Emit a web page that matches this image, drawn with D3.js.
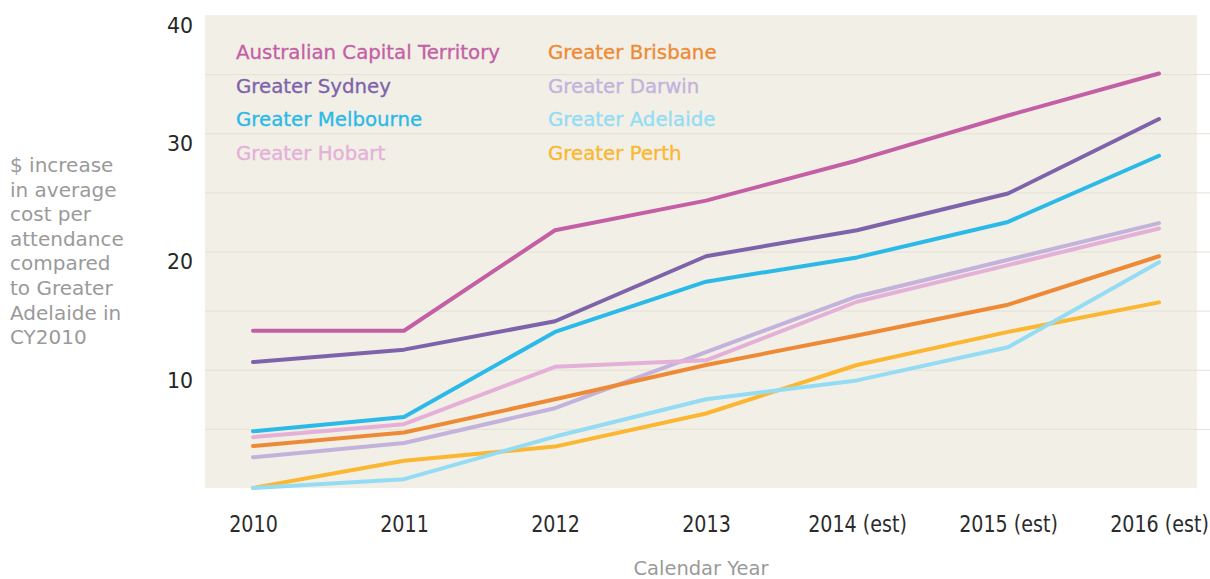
<!DOCTYPE html>
<html lang="en">
<head>
  <meta charset="UTF-8">
  <title>Cost per attendance</title>
  <style>
    body {
      margin: 0;
      background: #fff;
      font-family: "DejaVu Sans", sans-serif;
    }
    .plot-bg {
      fill: #f1efe6;
    }
    .grid line {
      stroke: #e4e1d6;
      stroke-width: 1px;
    }
    .grid path, .axis path {
      display: none;
    }
    .axis--y text {
      font-size: 20.5px;
      fill: #262626;
      font-family: "DejaVu Sans", sans-serif;
    }
    .axis--x text {
      font-size: 23px;
      fill: #2b2b2b;
      font-family: "DejaVu Sans", sans-serif;
    }
    .line {
      fill: none;
      stroke-width: 4px;
      stroke-linejoin: round;
      stroke-linecap: round;
    }
    .legend text {
      font-size: 19.8px;
      font-family: "DejaVu Sans", sans-serif;
    }
    .ytitle, .xtitle {
      fill: #9a9a9a;
      font-family: "DejaVu Sans", sans-serif;
    }
    .ytitle { font-size: 20px; }
    .xtitle { font-size: 19.5px; }
  </style>
</head>
<body>
<script src="https://cdn.jsdelivr.net/npm/d3@7"></script>
<script>
// data
const years = ['2010', '2011', '2012', '2013', '2014 (est)', '2015 (est)', '2016 (est)']
const yTicks = [10, 20, 30, 40]
const gridValues = [5, 10, 15, 20, 25, 30, 35]

const act = [13.3, 13.3, 21.8, 24.3, 27.7, 31.5, 35.05]
const sydney = [10.65, 11.7, 14.1, 19.6, 21.8, 24.9, 31.2]
const melbourne = [4.8, 6.0, 13.2, 17.45, 19.5, 22.5, 28.1]
const hobart = [4.3, 5.4, 10.25, 10.8, 15.75, 18.85, 21.95]
const brisbane = [3.55, 4.7, 7.5, 10.4, 12.9, 15.5, 19.6]
const darwin = [2.6, 3.8, 6.75, 11.5, 16.2, 19.3, 22.4]
const adelaide = [0, 0.75, 4.35, 7.5, 9.1, 11.9, 19.1]
const perth = [0, 2.3, 3.5, 6.3, 10.4, 13.2, 15.7]

const seriesNames = ['Australian Capital Territory', 'Greater Sydney', 'Greater Melbourne', 'Greater Hobart',
  'Greater Brisbane', 'Greater Darwin', 'Greater Adelaide', 'Greater Perth']
const seriesValues = [act, sydney, melbourne, hobart, brisbane, darwin, adelaide, perth]
const colors = ['#c45fa5', '#7e63aa', '#2bb9e8', '#e5b0d8', '#ee8a35', '#c3b2dc', '#94dcf4', '#fbb731']

const yTitle = ['$ increase', 'in average', 'cost per', 'attendance', 'compared', 'to Greater', 'Adelaide in', 'CY2010']

const W = 1210, H = 579
const margin = {top: 15, right: 13, bottom: 91, left: 205}
const width = W - margin.left - margin.right
const height = H - margin.top - margin.bottom

const svg = d3.select('body').append('svg')
  .attr('width', W)
  .attr('height', H)

const g = svg.append('g')
  .attr('transform', `translate(${margin.left},${margin.top})`)

const x = d3.scalePoint()
  .domain(years)
  .range([48, 954])

const y = d3.scaleLinear()
  .domain([0, 40])
  .range([height, 0])

g.append('rect')
  .attr('class', 'plot-bg')
  .attr('width', width)
  .attr('height', height)

// gridlines run a bit past the background on the right
g.append('g')
  .attr('class', 'grid')
  .call(d3.axisRight(y).tickValues(gridValues).tickSize(W - margin.left).tickFormat(''))

g.append('g')
  .attr('class', 'axis axis--y')
  .call(d3.axisLeft(y).tickValues(yTicks).tickSize(0).tickPadding(12))
  .selectAll('text')
  .attr('dy', '0.85em')

// the x labels are a narrow face in the original, so squeeze them
g.append('g')
  .attr('class', 'axis axis--x')
  .attr('transform', `translate(0,${height})`)
  .call(d3.axisBottom(x).tickSize(0).tickPadding(28))
  .selectAll('text')
  .attr('transform', 'scale(0.83,1)')

const line = d3.line()
  .x((d, i) => x(years[i]))
  .y(d => y(d))

// draw back to front so the upper series sit on top
seriesValues.slice().reverse().forEach((vals, k) => {
  const i = seriesValues.length - 1 - k
  g.append('path')
    .datum(vals)
    .attr('class', 'line')
    .attr('stroke', colors[i])
    .attr('d', line)
})

const legend = g.append('g')
  .attr('class', 'legend')
  .attr('transform', 'translate(31,44)')

legend.selectAll('text')
  .data(seriesNames)
  .join('text')
  .attr('x', (d, i) => i < 4 ? 0 : 312)
  .attr('y', (d, i) => (i % 4) * 33.7)
  .attr('fill', (d, i) => colors[i])
  .attr('stroke', (d, i) => colors[i])
  .attr('stroke-width', 0.3)
  .text(d => d)

svg.append('g')
  .selectAll('text')
  .data(yTitle)
  .join('text')
  .attr('class', 'ytitle')
  .attr('x', 10)
  .attr('y', (d, i) => 172 + i * 24.6)
  .text(d => d)

svg.append('text')
  .attr('class', 'xtitle')
  .attr('x', 701)
  .attr('y', 575)
  .attr('text-anchor', 'middle')
  .text('Calendar Year')
</script>
</body>
</html>
